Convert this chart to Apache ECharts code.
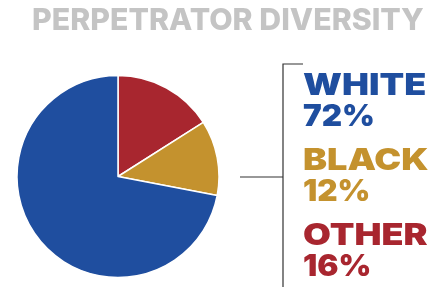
<!DOCTYPE html>
<html>
<head>
<meta charset="utf-8">
<script src="https://cdn.jsdelivr.net/npm/echarts@6/dist/echarts.min.js"></script>
<style>
  html, body { margin: 0; padding: 0; background: #fff; }
  #chart { width: 430px; height: 287px; }
</style>
</head>
<body>
<div id="chart"></div>
<script>
// data
const groups = ['OTHER', 'BLACK', 'WHITE']
const shares = [16, 12, 72]
const colors = ['#a8262f', '#c4922e', '#1f4e9f']
const titleText = 'PERPETRATOR DIVERSITY'

// legend rows, top-down
const legendOrder = [2, 1, 0]

const chart = echarts.init(document.getElementById('chart'))

const family = ' 30px Inter, "DejaVu Sans", sans-serif'

function word(text, x, y, color, sx, weight) {
  return {
    type: 'text',
    x: x,
    y: y,
    scaleX: sx,
    style: { text: text, fill: color, font: (weight || 900) + family, verticalAlign: 'middle' }
  }
}

const labels = []
legendOrder.forEach(function (idx, row) {
  const mid = 86 + row * 75
  labels.push(word(groups[idx], 303, mid, colors[idx], 1.2))
  labels.push(word(shares[idx] + '%', 303, mid + 31, colors[idx], 1.05))
})

chart.setOption({
  animation: false,
  series: [
    {
      type: 'pie',
      center: [118, 176.5],
      radius: [0, 101],
      startAngle: 90,
      clockwise: true,
      label: { show: false },
      labelLine: { show: false },
      itemStyle: { borderColor: '#fff', borderWidth: 1.5 },
      data: groups.map(function (g, i) {
        return { name: g, value: shares[i], itemStyle: { color: colors[i] } }
      })
    }
  ],
  graphic: [word(titleText, 32, 21, '#c4c4c4', 1.01, 800)].concat(labels, [
    {
      type: 'polyline',
      shape: { points: [[303, 64], [283, 64], [283, 287]] },
      style: { stroke: '#333', lineWidth: 1.2, fill: null }
    },
    {
      type: 'line',
      shape: { x1: 240, y1: 177, x2: 283, y2: 177 },
      style: { stroke: '#333', lineWidth: 1.2 }
    }
  ])
})
</script>
</body>
</html>
